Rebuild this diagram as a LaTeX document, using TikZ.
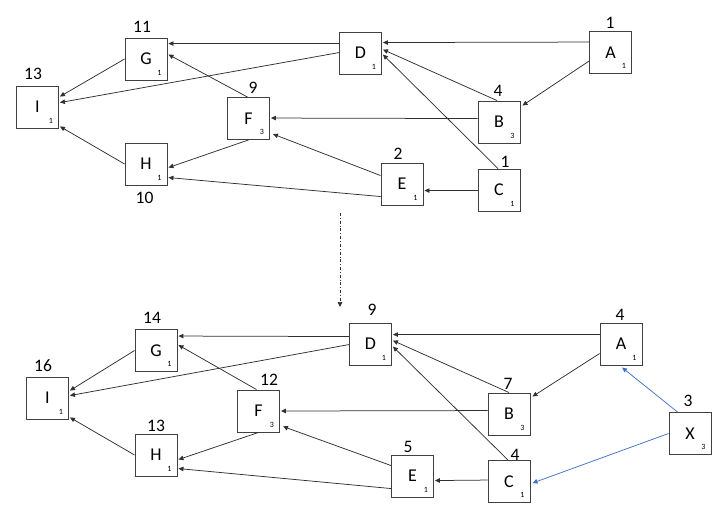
\documentclass[tikz,border=0pt]{standalone}
\usepackage{fontspec}
\setmainfont{Carlito}
\usetikzlibrary{calc,arrows.meta}
\definecolor{xblue}{HTML}{4472C4}
\definecolor{boxgray}{HTML}{404040}
\definecolor{edgegray}{HTML}{303030}
\begin{document}
\begin{tikzpicture}[x=1pt,y=-1pt,
  box/.style={draw=boxgray, line width=0.9pt, minimum width=42pt, minimum height=42pt, inner sep=0pt, font=\fontsize{18}{20}\selectfont},
  num/.style={inner sep=0pt, font=\fontsize{17.5}{20}\selectfont},
  sub/.style={inner sep=0pt, font=\fontsize{8}{9}\selectfont},
  edge/.style={draw=edgegray, line width=0.75pt, -{Triangle[length=5pt,width=4.5pt]}},
  bedge/.style={draw=xblue, line width=0.75pt, -{Triangle[length=5pt,width=4.5pt]}},
  flow/.style={draw=edgegray, line width=0.7pt, dash dot, -{Triangle[length=5pt,width=4.5pt]}}]
\useasboundingbox (0,0) rectangle (720,511);

% ---------- top graph ----------
\node[box] (tA) at (610.5,52.5) {A};
\node[box] (tB) at (499,122) {B};
\node[box] (tC) at (499,190) {C};
\node[box] (tD) at (360.5,53) {D};
\node[box] (tE) at (402,184) {E};
\node[box] (tF) at (248.5,118.5) {F};
\node[box] (tG) at (146,59) {G};
\node[box] (tH) at (146,164) {H};
\node[box] (tI) at (37.5,107) {I};
\foreach \n/\s in {tA/1,tB/3,tC/1,tD/1,tE/1,tF/3,tG/1,tH/1,tI/1}
  \node[sub] (\n s) at ($(\n.south east)+(-8,-8)$) {\s};

\node[num] (tAn) at (610,23) {1};
\node[num] (tBn) at (498,91) {4};
\node[num] (tCn) at (505,162) {1};
\node[num] (tEn) at (398,154) {2};
\node[num] (tFn) at (253,88) {9};
\node[num] (tGn) at (142,27) {11};
\node[num] (tHn) at (144.5,198) {10};
\node[num] (tIn) at (33,74) {13};

\draw[edge] ($(tA.north west)+(0,11)$) -- ($(tD.north east)+(1,11)$);
\draw[edge] ($(tA.north west)+(0,30)$) -- ($(tB.north east)+(2,5)$);
\draw[edge] ($(tB.north)+(-2,0)$) -- ($(tD.north east)+(1,18)$);
\draw[edge] ($(tC.north)+(-1,0)$) -- ($(tD.north east)+(1,23)$);
\draw[edge] ($(tB.north west)+(0,18)$) -- ($(tF.north east)+(1,21)$);
\draw[edge] ($(tC.north west)+(0,22)$) -- ($(tE.north east)+(1,28)$);
\draw[edge] ($(tE.north west)+(0,13)$) -- ($(tF.north east)+(3,37)$);
\draw[edge] ($(tE.north west)+(0,34)$) -- ($(tH.north east)+(1,35)$);
\draw[edge] ($(tD.north west)+(0,12)$) -- ($(tG.north east)+(1,6)$);
\draw[edge] ($(tD.north west)+(0,21)$) -- ($(tI.north east)+(1,17)$);
\draw[edge] ($(tF.north)+(-1,0)$) -- ($(tG.north east)+(1,17)$);
\draw[edge] (tF.south) -- ($(tH.north east)+(1,25)$);
\draw[edge] (tG.west) -- ($(tI.north east)+(1,11)$);
\draw[edge] (tH.west) -- ($(tI.south east)+(1,-2)$);

% ---------- transition ----------
\coordinate (fs) at (340,213);
\coordinate (fe) at (340,307);
\draw[flow] (fs) -- (fe);

% ---------- bottom graph ----------
\node[box] (bA) at (621,344) {A};
\node[box] (bB) at (509,414) {B};
\node[box] (bC) at (509,481.5) {C};
\node[box] (bD) at (370.5,344) {D};
\node[box] (bE) at (412.5,476) {E};
\node[box] (bF) at (258.5,411) {F};
\node[box] (bG) at (156,350.5) {G};
\node[box] (bH) at (156,455) {H};
\node[box] (bI) at (47.5,398) {I};
\node[box] (bX) at (690,433.5) {X};
\foreach \n/\s in {bA/1,bB/3,bC/1,bD/1,bE/1,bF/3,bG/1,bH/1,bI/1,bX/3}
  \node[sub] (\n s) at ($(\n.south east)+(-8,-8)$) {\s};

\node[num] (bAn) at (620,315) {4};
\node[num] (bBn) at (508,384) {7};
\node[num] (bCn) at (515,455) {4};
\node[num] (bDn) at (372,310) {9};
\node[num] (bEn) at (408,447) {5};
\node[num] (bFn) at (269,380) {12};
\node[num] (bGn) at (152,318) {14};
\node[num] (bHn) at (156,426) {13};
\node[num] (bIn) at (43,366) {16};
\node[num] (bXn) at (688,401) {3};

\draw[edge] ($(bA.north west)+(0,12)$) -- ($(bD.north east)+(1,12)$);
\draw[edge] ($(bA.north west)+(0,31)$) -- ($(bB.north east)+(2,4)$);
\draw[edge] (bB.north) -- ($(bD.north east)+(1,18)$);
\draw[edge] ($(bC.north)+(-1,0)$) -- ($(bD.north east)+(1,24)$);
\draw[bedge] ($(bX.north west)+(9,0)$) -- ($(bA.south)+(1,2)$);
\draw[bedge] (bX.west) -- ($(bC.north east)+(2,23)$);
\draw[edge] ($(bC.north west)+(0,20)$) -- ($(bE.north east)+(1,26)$);
\draw[edge] ($(bB.north west)+(0,18)$) -- ($(bF.east)+(1,0)$);
\draw[edge] ($(bE.north west)+(0,11)$) -- ($(bF.south east)+(3,-6)$);
\draw[edge] ($(bE.north west)+(0,34)$) -- ($(bH.north east)+(1,35)$);
\draw[edge] ($(bD.north west)+(0,14)$) -- ($(bG.north east)+(1,7)$);
\draw[edge] ($(bD.north west)+(0,22)$) -- ($(bI.north east)+(1,19)$);
\draw[edge] ($(bF.north)+(-2,0)$) -- ($(bG.north east)+(1,16)$);
\draw[edge] (bF.south) -- ($(bH.north east)+(1,26)$);
\draw[edge] (bG.west) -- ($(bI.north east)+(1,14)$);
\draw[edge] (bH.west) -- ($(bI.south east)+(1,-2)$);
\end{tikzpicture}
\end{document}
